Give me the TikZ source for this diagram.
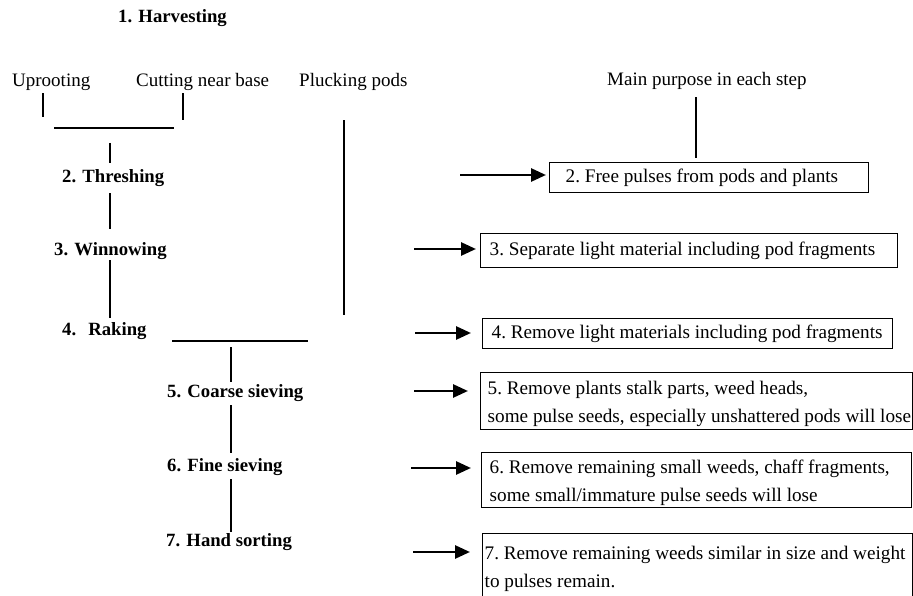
\documentclass[tikz,border=0pt]{standalone}
\usepackage{fontspec}
\setmainfont{Liberation Serif}
\usetikzlibrary{arrows.meta}

\begin{document}
\begin{tikzpicture}[x=1pt,y=-1pt,
    steplbl/.style={anchor=base west, inner sep=0pt, font=\fontsize{18.7}{22}\selectfont\bfseries},
    waylbl/.style={anchor=base west, inner sep=0pt, font=\fontsize{19}{23}\selectfont},
    aimbox/.style={draw, line width=1.4pt, anchor=north west, align=left, inner ysep=0pt, font=\fontsize{19.2}{28.5}\selectfont,
        execute at begin node={\frenchspacing\spaceskip=0pt\xspaceskip=0pt}},
    link/.style={line width=2.7pt},
    bar/.style={line width=2pt},
    goes/.style={line width=2.7pt, -{Triangle[length=15pt,width=13pt]}}]

    \useasboundingbox (0,0) rectangle (913,596);

    % Harvesting and the ways it is done
    \node (harvest) at (118,23) [steplbl] {1. Harvesting};
    \node (uproot) at (12,87) [waylbl] {Uprooting};
    \node (cutbase) at (136,87) [waylbl] {Cutting near base};
    \node (pluck) at (299,87) [waylbl] {Plucking pods};
    \node (purpose) at (607,86) [waylbl] {Main purpose in each step}; % heading of the right column

    % Steps after harvesting
    \node (thresh) at (62,183) [steplbl] {2. Threshing};
    \node (winnow) at (54,255) [steplbl] {3. Winnowing};
    \node (rake) at (62,335) [steplbl] {4.\hspace{0.65em}Raking};
    \node (coarse) at (167,397) [steplbl] {5. Coarse sieving};
    \node (fine) at (167,471) [steplbl] {6. Fine sieving};
    \node (hand) at (166,546) [steplbl] {7. Hand sorting};

    % Purpose of each step
    \node (aim2) at (549,162) [aimbox, inner xsep=16pt, text width=287pt, minimum height=30pt] {2. Free pulses from pods and plants};
    \node (aim3) at (480,233) [aimbox, inner xsep=9pt, text width=399pt, minimum height=34pt] {\mbox{3. Separate light material including pod fragments}};
    \node (aim4) at (482,318) [aimbox, inner xsep=9pt, text width=392pt, minimum height=30pt] {\mbox{4. Remove light materials including pod fragments}};
    \node (aim5) at (480,372) [aimbox, inner xsep=7pt, text width=418pt, minimum height=57pt] {\rule{0pt}{19pt}5. Remove plants stalk parts, weed heads,\\\mbox{some pulse seeds, especially unshattered pods will lose}};
    \node (aim6) at (481,452) [aimbox, inner xsep=8pt, text width=414pt, minimum height=55pt] {\rule{0pt}{19pt}\mbox{6. Remove remaining small weeds, chaff fragments,}\\some small/immature pulse seeds will lose};
    \node (aim7) at (482,533) [aimbox, inner xsep=2pt, text width=426pt, minimum height=70pt] {\mbox{7. Remove remaining weeds similar in size and weight}\\to pulses remain.}; % runs off the bottom edge

    % Uprooting and cutting join before threshing
    \coordinate (barAl) at (54,128);
    \coordinate (barAr) at (174,128);
    \draw[bar] (barAl) -- (barAr);
    \draw[link] (uproot.south -| 43,0) ++(0,2) -- ++(0,24);
    \draw[link] (cutbase.south -| 183,0) ++(0,2) -- ++(0,27);
    \draw[link, shorten >=6.5pt] (barAl -| 110,0) ++(0,15) -- (thresh.north -| 110,0);
    \draw[link, shorten <=6pt, shorten >=13pt] (thresh.south -| 110,0) -- (winnow.north -| 110,0);
    \draw[link, shorten <=1pt, shorten >=4pt] (winnow.south -| 110,0) -- (rake.north -| 110,0);

    % Plucked pods skip threshing and winnowing
    \draw[link] (pluck.south -| 344,0) ++(0,29) -- ++(0,195);

    % Everything joins again before sieving
    \coordinate (barBl) at (172,341);
    \coordinate (barBr) at (308,341);
    \draw[bar] (barBl) -- (barBr);
    \draw[link, shorten <=6pt, shorten >=2pt] (barBl -| 231,0) -- (coarse.north -| 231,0);
    \draw[link, shorten <=4pt, shorten >=5pt] (coarse.south -| 231,0) -- (fine.north -| 231,0);
    \draw[link, shorten <=4pt, shorten >=1pt] (fine.south -| 231,0) -- (hand.north -| 231,0);

    \draw[link, shorten <=7pt, shorten >=4pt] (purpose.south -| 696,0) -- (aim2.north -| 696,0);

    % Arrows into the purpose boxes
    \coordinate (from2) at (460,175);
    \coordinate (from3) at (414,249);
    \coordinate (from4) at (415,333);
    \coordinate (from5) at (414,391);
    \coordinate (from6) at (411,468);
    \coordinate (from7) at (413,552);
    \draw[goes, shorten >=3pt] (from2) -- (aim2.west |- from2);
    \draw[goes, shorten >=4pt] (from3) -- (aim3.west |- from3);
    \draw[goes, shorten >=11pt] (from4) -- (aim4.west |- from4);
    \draw[goes, shorten >=12pt] (from5) -- (aim5.west |- from5);
    \draw[goes, shorten >=10pt] (from6) -- (aim6.west |- from6);
    \draw[goes, shorten >=12pt] (from7) -- (aim7.west |- from7);

\end{tikzpicture}
\end{document}
